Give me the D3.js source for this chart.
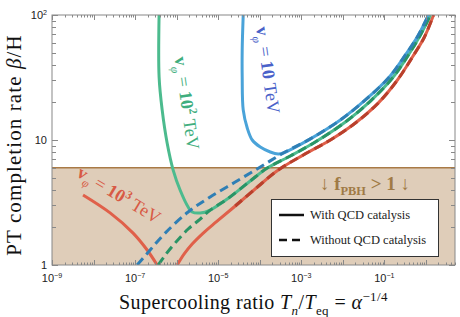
<!DOCTYPE html>
<html>
<head>
<meta charset="utf-8">
<script src="https://cdn.jsdelivr.net/npm/d3@7"></script>
<style>
  body { margin: 0; background: #fff; }
  svg { display: block; }
</style>
</head>
<body>
<div id="chart"></div>
<script>
// data (x = Tn/Teq, y = beta/H)
const redLeftX  = [5.58e-9, 2.5e-8, 8.95e-8, 1.95e-7, 3.39e-7];
const redLeftY  = [3.63, 2.61, 1.80, 1.318, 1.0];
const redRightX = [1.03e-6, 1.52e-6, 2.36e-6, 4.36e-6, 8.95e-6, 2.57e-5, 8.24e-5, 2.79e-4, 1.117e-3, 5.0e-3, 2.0e-2, 7.16e-2, 0.206, 0.473, 0.92, 1.52];
const redRightY = [1.0, 1.225, 1.47, 1.80, 2.21, 2.965, 4.13, 5.754, 7.59, 10.0, 13.68, 19.8, 30.2, 46.1, 66.7, 100];
// without catalysis the 10^3 TeV curve lies on the right branch; its dashes show from here up
const redDashX = [2.57e-5, 8.24e-5, 2.79e-4, 1.117e-3, 5.0e-3, 2.0e-2, 7.16e-2, 0.206, 0.473, 0.92, 1.52];
const redDashY = [2.965, 4.13, 5.754, 7.59, 10.0, 13.68, 19.8, 30.2, 46.1, 66.7, 100];

const greenSolidX = [3.78e-7, 3.78e-7, 4.48e-7, 5.9e-7, 8.24e-7, 1.21e-6, 1.89e-6, 2.36e-6, 3.68e-6, 6.41e-6, 1.65e-5, 5.9e-5, 1.52e-4, 5.43e-4, 2.17e-3, 1.15e-2, 4.6e-2, 0.156, 0.378, 0.736, 1.28];
const greenSolidY = [100, 31.9, 17.4, 9.46, 5.75, 3.98, 2.91, 2.655, 2.606, 2.75, 3.37, 4.70, 5.97, 7.45, 9.64, 13.93, 20.5, 31.3, 47.9, 69.2, 100];
const greenDashX  = [3.58e-7, 5.58e-7, 9.2e-7, 1.89e-6, 3.68e-6, 6.41e-6, 1.65e-5, 5.9e-5, 1.52e-4, 5.43e-4, 2.17e-3, 1.15e-2, 4.6e-2, 0.156, 0.378, 0.736, 1.28];
const greenDashY  = [1.0, 1.225, 1.50, 1.94, 2.33, 2.75, 3.37, 4.70, 5.97, 7.45, 9.64, 13.93, 20.5, 31.3, 47.9, 69.2, 100];

const blueSolidX = [4.0e-5, 3.78e-5, 3.78e-5, 4.0e-5, 5.0e-5, 6.59e-5, 1.03e-4, 1.79e-4, 2.79e-4, 3.68e-4, 1.65e-3, 8.7e-3, 3.48e-2, 0.125, 0.321, 0.659, 1.15];
const blueSolidY = [100, 52.5, 31.9, 17.4, 12.47, 10.0, 8.79, 8.02, 7.73, 7.87, 10.2, 14.45, 20.9, 31.3, 47.9, 69.2, 100];
const blueDashX  = [1.12e-7, 2.3e-7, 5.28e-7, 1.89e-6, 6.41e-6, 2.57e-5, 1.03e-4, 3.68e-4, 1.65e-3, 8.7e-3, 3.48e-2, 0.125, 0.321, 0.659, 1.15];
const blueDashY  = [1.0, 1.318, 1.80, 2.655, 3.50, 4.61, 6.08, 7.87, 10.2, 14.45, 20.9, 31.3, 47.9, 69.2, 100];

const fpbhBound = 6;
const xLabelPowers = [-9, -7, -5, -3, -1];
const yTickValues = [1, 10, 100];
const legendLabels = ['With QCD catalysis', 'Without QCD catalysis'];

const W = 460, H = 317;
const margin = { top: 15, right: 5, bottom: 52, left: 52 };

const svg = d3.select('#chart').append('svg')
  .attr('width', W).attr('height', H);

const x = d3.scaleLog().domain([1e-9, 5]).range([margin.left, W - margin.right]);
const y = d3.scaleLog().domain([1, 100]).range([H - margin.bottom, margin.top]);

svg.append('clipPath').attr('id', 'clip')
  .append('rect')
  .attr('x', x.range()[0]).attr('y', y.range()[1])
  .attr('width', x.range()[1] - x.range()[0])
  .attr('height', y.range()[0] - y.range()[1]);

const plot = svg.append('g').attr('clip-path', 'url(#clip)');

// f_PBH > 1 region
plot.append('rect')
  .attr('x', x.range()[0]).attr('width', x.range()[1] - x.range()[0])
  .attr('y', y(fpbhBound)).attr('height', y(1) - y(fpbhBound))
  .attr('fill', '#dfcdb9');
plot.append('line')
  .attr('x1', x.range()[0]).attr('x2', x.range()[1])
  .attr('y1', y(fpbhBound)).attr('y2', y(fpbhBound))
  .attr('stroke', '#a97a46').attr('stroke-width', 1.5);

const line = d3.line()
  .x(d => x(d[0])).y(d => y(d[1]))
  .curve(d3.curveCatmullRom.alpha(0.5));

const zip = (a, b) => a.map((v, i) => [v, b[i]]);

const series = [
  { xs: redLeftX, ys: redLeftY, color: '#e0604a', dash: null },
  { xs: redRightX, ys: redRightY, color: '#e0604a', dash: null },
  { xs: greenSolidX, ys: greenSolidY, color: '#4cbb8e', dash: null },
  { xs: blueSolidX, ys: blueSolidY, color: '#4aa3d9', dash: null },
  { xs: redDashX, ys: redDashY, color: '#b8402c', dash: '9,5' },
  { xs: greenDashX, ys: greenDashY, color: '#2a9466', dash: '9,5' },
  { xs: blueDashX, ys: blueDashY, color: '#2f7fb5', dash: '9,5' }
];

series.forEach(s => {
  plot.append('path')
    .datum(zip(s.xs, s.ys))
    .attr('d', line)
    .attr('fill', 'none')
    .attr('stroke', s.color)
    .attr('stroke-width', 3)
    .attr('stroke-dasharray', s.dash);
});

// frame + ticks on all four sides
const frame = svg.append('g').attr('stroke', '#888').attr('stroke-width', 1);
frame.append('rect')
  .attr('x', x.range()[0]).attr('y', y.range()[1])
  .attr('width', x.range()[1] - x.range()[0])
  .attr('height', y.range()[0] - y.range()[1])
  .attr('fill', 'none');

const xTicks = [];
for (let k = -9; k <= 0; k++) {
  for (let m = 1; m <= 9; m++) {
    const v = m * Math.pow(10, k);
    if (v <= 5) xTicks.push({ v, major: m === 1 });
  }
}
xTicks.forEach(t => {
  const len = t.major ? 5 : 2.5;
  const px = Math.round(x(t.v)) + 0.5;
  frame.append('line').attr('x1', px).attr('x2', px)
    .attr('y1', y.range()[0]).attr('y2', y.range()[0] - len);
  frame.append('line').attr('x1', px).attr('x2', px)
    .attr('y1', y.range()[1]).attr('y2', y.range()[1] + len);
});

const yTicks = [];
for (let k = 0; k <= 1; k++) {
  for (let m = 1; m <= 9; m++) yTicks.push({ v: m * Math.pow(10, k), major: m === 1 });
}
yTicks.push({ v: 100, major: true });
yTicks.forEach(t => {
  const len = t.major ? 6 : 4;
  const py = Math.round(y(t.v)) + 0.5;
  frame.append('line').attr('y1', py).attr('y2', py)
    .attr('x1', x.range()[0]).attr('x2', x.range()[0] + len);
  frame.append('line').attr('y1', py).attr('y2', py)
    .attr('x1', x.range()[1]).attr('x2', x.range()[1] - len);
});

// rich text helper
function rich(sel, parts, size) {
  let shift = 0;
  parts.forEach(p => {
    const target = p.sup ? -0.4 * size : p.sub ? 0.28 * size : 0;
    const ts = sel.append('tspan').text(p.t).attr('dy', target - shift);
    shift = target;
    if (p.sup || p.sub) ts.attr('font-size', size * 0.65);
    if (p.b) ts.attr('font-weight', 'bold');
    if (p.i) ts.attr('font-style', 'italic');
  });
}

const sans = '"Liberation Sans", Arial, sans-serif';
const serif = '"Liberation Serif", "Times New Roman", serif';

xLabelPowers.forEach(k => {
  const t = svg.append('text')
    .attr('x', x(Math.pow(10, k))).attr('y', 282)
    .attr('text-anchor', 'middle')
    .attr('font-family', sans).attr('font-size', 11).attr('fill', '#222');
  rich(t, [{ t: '10' }, { t: '−' + Math.abs(k), sup: true }], 11);
});

yTickValues.forEach(v => {
  const t = svg.append('text')
    .attr('x', 47).attr('y', y(v) + 4)
    .attr('text-anchor', 'end')
    .attr('font-family', sans).attr('font-size', 11).attr('fill', '#222');
  if (v === 100) rich(t, [{ t: '10' }, { t: '2', sup: true }], 11);
  else t.text(v);
});

// axis titles
const xt = svg.append('text')
  .attr('x', (x.range()[0] + x.range()[1]) / 2).attr('y', 309)
  .attr('text-anchor', 'middle')
  .attr('font-family', serif).attr('font-size', 20).attr('letter-spacing', 0.4)
  .attr('fill', '#111');
rich(xt, [
  { t: 'Supercooling ratio ' }, { t: 'T', i: true }, { t: 'n', i: true, sub: true },
  { t: '/' }, { t: 'T', i: true }, { t: 'eq', sub: true }, { t: ' = ' },
  { t: 'α', i: true }, { t: '−1/4', sup: true }
], 20);

const yt = svg.append('text')
  .attr('transform', 'translate(21,145) rotate(-90)')
  .attr('text-anchor', 'middle')
  .attr('font-family', serif).attr('font-size', 21).attr('letter-spacing', 1.1)
  .attr('fill', '#111');
rich(yt, [{ t: 'PT completion rate ' }, { t: 'β', i: true }, { t: '/H' }], 21);

// curve labels
function curveLabel(cx, cy, angle, color, power) {
  const t = svg.append('text')
    .attr('transform', `translate(${cx},${cy}) rotate(${angle})`)
    .attr('text-anchor', 'middle').attr('dy', '0.35em')
    .attr('font-family', serif).attr('font-size', 18).attr('fill', color);
  const parts = [{ t: 'v', b: true }, { t: 'φ', sub: true, i: true }, { t: ' = ' }, { t: '10', b: true }];
  if (power) parts.push({ t: power, sup: true, b: true });
  parts.push({ t: ' TeV' });
  rich(t, parts, 18);
}
curveLabel(262, 71, 82, '#4a62c9', null);
curveLabel(181, 104, 82, '#3fae7e', '2');
curveLabel(116, 200, 31, '#d85a45', '3');

// f_PBH label
const fl = svg.append('text')
  .attr('x', 365).attr('y', 190)
  .attr('text-anchor', 'middle')
  .attr('font-family', serif).attr('font-size', 19).attr('font-weight', 'bold')
  .attr('fill', '#a07a45');
rich(fl, [{ t: '↓ f' }, { t: 'PBH', sub: true }, { t: ' > 1 ↓' }], 19);

// legend
const lg = svg.append('g');
lg.append('rect')
  .attr('x', 271.5).attr('y', 199.5).attr('width', 167).attr('height', 57)
  .attr('fill', '#fff').attr('stroke', '#333').attr('stroke-width', 1);
legendLabels.forEach((lab, i) => {
  const ly = 215 + i * 25;
  lg.append('line')
    .attr('x1', 279).attr('x2', 304).attr('y1', ly).attr('y2', ly)
    .attr('stroke', '#111').attr('stroke-width', 2.5)
    .attr('stroke-dasharray', i === 1 ? '8,5' : null);
  lg.append('text')
    .attr('x', 310).attr('y', ly + 4)
    .attr('font-family', serif).attr('font-size', 12.5).attr('fill', '#222')
    .text(lab);
});
</script>
</body>
</html>
